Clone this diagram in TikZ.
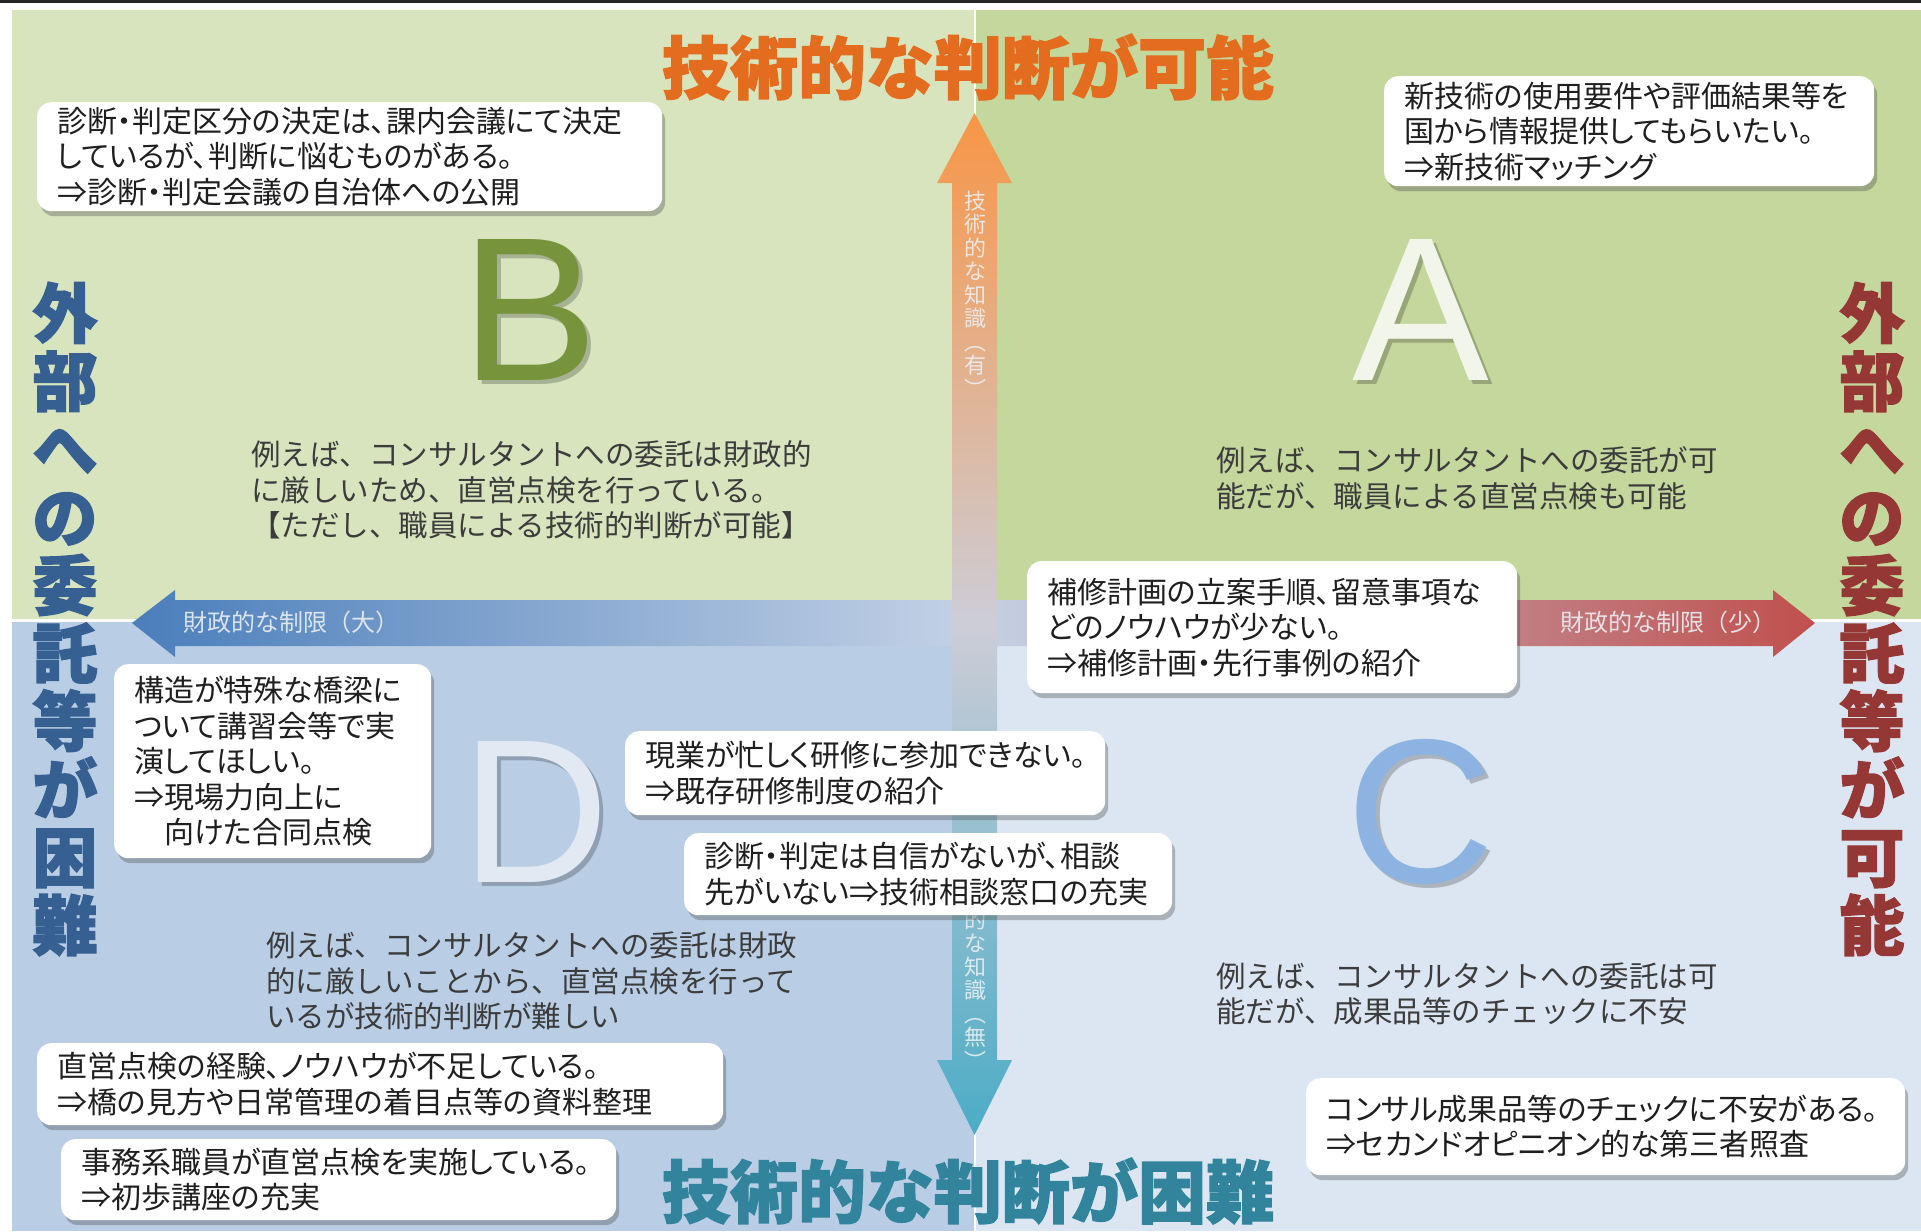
\documentclass[tikz,border=0pt]{standalone}
\usepackage{fontspec}
\setmainfont{Noto Sans CJK JP}
\newfontfamily\boxfont{Noto Sans CJK JP}[RawFeature=+palt]
\newfontfamily\heavyfont{Noto Sans CJK JP}[FakeBold=2]
\newfontfamily\latinf{Liberation Sans}
\usetikzlibrary{shadows}
\definecolor{qB}{RGB}{215,228,189}
\definecolor{qA}{RGB}{196,215,156}
\definecolor{qD}{RGB}{185,205,229}
\definecolor{qC}{RGB}{220,230,242}
\definecolor{hblue}{RGB}{74,126,187}
\definecolor{hmid}{RGB}{196,210,230}
\definecolor{hred}{RGB}{192,80,77}
\definecolor{vorange}{RGB}{247,150,70}
\definecolor{vmid}{RGB}{205,205,215}
\definecolor{vteal}{RGB}{75,172,198}
\definecolor{torange}{RGB}{228,108,30}
\definecolor{tteal}{RGB}{49,132,155}
\definecolor{sblue}{RGB}{55,96,146}
\definecolor{sred}{RGB}{149,55,53}
\definecolor{letB}{RGB}{119,147,60}
\definecolor{letA}{RGB}{242,245,234}
\definecolor{letD}{RGB}{226,233,243}
\definecolor{letC}{RGB}{141,179,226}
\definecolor{bodygray}{RGB}{60,60,60}
\definecolor{atext}{RGB}{235,238,242}
\tikzset{
 cbox/.style={fill=white, rounded corners=14pt, inner xsep=20pt, inner ysep=0pt, align=left, anchor=north west, font=\boxfont\fontsize{30}{35.5}\selectfont, text=black!88, drop shadow={shadow xshift=3pt, shadow yshift=-5pt, opacity=0.35, fill=black!70}},
 body/.style={anchor=west, align=left, inner sep=0pt, font=\fontsize{29.5}{35.5}\selectfont, text=bodygray},
 bigletter/.style={inner sep=0pt, anchor=base, font=\latinf\fontsize{205}{205}\selectfont},
 lshadow/.style={bigletter, text=black, text opacity=0.22},
 titletext/.style={inner sep=0pt, font=\heavyfont\bfseries\fontsize{68}{68}\selectfont},
 sidetitle/.style={inner sep=0pt, align=center, font=\heavyfont\bfseries\fontsize{65}{68}\selectfont},
 arrowtext/.style={inner sep=0pt, text=atext, text opacity=0.9, font=\fontsize{24}{24}\selectfont},
 vtext/.style={inner sep=0pt, align=center, text=atext, text opacity=0.9, font=\fontsize{22}{23.5}\selectfont},
}
\begin{document}
\begin{tikzpicture}[x=1pt,y=-1pt]
\useasboundingbox (0,0) rectangle (1921,1231);
\fill[white] (0,0) rectangle (1921,1231);
% quadrants
\fill[qB] (12,10) rectangle (975,620);
\fill[qA] (975,10) rectangle (1921,620);
\fill[qD] (12,620) rectangle (975,1231);
\fill[qC] (975,620) rectangle (1921,1231);
\draw[white, line width=3] (12,620) -- (1921,620);
\draw[white, line width=2] (975,10) -- (975,1231);
\draw[black!85, line width=3] (0,1.5) -- (1921,1.5);
% horizontal arrow
\shade[left color=hblue, right color=hred, middle color=hmid]
 (132,623) -- (175,590) -- (175,600) -- (1773,600) -- (1773,590) -- (1815,623)
 -- (1773,657) -- (1773,646) -- (175,646) -- (175,657) -- cycle;
% vertical arrow
\shade[top color=vorange, bottom color=vteal, middle color=vmid]
 (974.5,113) -- (1012,183) -- (997,183) -- (997,1060) -- (1012,1060) -- (974.5,1135)
 -- (937,1060) -- (952,1060) -- (952,183) -- (937,183) -- cycle;
% arrow labels
\node[arrowtext, anchor=west] (hl) at (183,622) {財政的な制限（大）};
\node[arrowtext, anchor=west] (hr) at (1560,622) {財政的な制限（少）};
\node[vtext] (vu) at (975,294) {技\\術\\的\\な\\知\\識\\︵\\有\\︶};
\node[vtext] (vd) at (975,966) {技\\術\\的\\な\\知\\識\\︵\\無\\︶};
% big letters
\node[lshadow] at (534,384) {B};
\node[bigletter, text=letB] (LB) at (530,380) {B};
\node[lshadow] at (1425,384) {A};
\node[bigletter, text=letA] (LA) at (1421,380) {A};
\node[lshadow] at (540,886) {D};
\node[bigletter, text=letD] (LD) at (536,882) {D};
\node[lshadow] at (1425,886) {C};
\node[bigletter, text=letC] (LC) at (1421,882) {C};
% titles
\node[titletext, text=torange] (ttop) at (968,67) {技術的な判断が可能};
\node[titletext, text=tteal] (tbot) at (968,1191) {技術的な判断が困難};
\node[sidetitle, text=sblue] (sl) at (65,619) {外\\部\\へ\\の\\委\\託\\等\\が\\困\\難};
\node[sidetitle, text=sred] (sr) at (1872,619) {外\\部\\へ\\の\\委\\託\\等\\が\\可\\能};
% body texts
\node[body] (tB) at (251,490) {例えば、コンサルタントへの委託は財政的\\に厳しいため、直営点検を行っている。\\【ただし、職員による技術的判断が可能】};
\node[body] (tA) at (1216,478.5) {例えば、コンサルタントへの委託が可\\能だが、職員による直営点検も可能};
\node[body] (tD) at (266,981) {例えば、コンサルタントへの委託は財政\\的に厳しいことから、直営点検を行って\\いるが技術的判断が難しい};
\node[body] (tC) at (1216,994) {例えば、コンサルタントへの委託は可\\能だが、成果品等のチェックに不安};
% boxes
\node[cbox, text width=585pt, minimum height=109pt] (b1) at (37,102) {診断・判定区分の決定は、課内会議にて決定\\しているが、判断に悩むものがある。\\⇒診断・判定会議の自治体への公開};
\node[cbox, text width=450pt, minimum height=110pt] (b2) at (1384,76) {新技術の使用要件や評価結果等を\\国から情報提供してもらいたい。\\⇒新技術マッチング};
\node[cbox, text width=450pt, minimum height=132pt] (b3) at (1027,561) {補修計画の立案手順、留意事項な\\どのノウハウが少ない。\\⇒補修計画・先行事例の紹介};
\node[cbox, text width=277pt, minimum height=194pt] (b4) at (114,664) {構造が特殊な橋梁に\\ついて講習会等で実\\演してほしい。\\⇒現場力向上に\\　向けた合同点検};
\node[cbox, text width=440pt, minimum height=84pt] (b5) at (625,731) {現業が忙しく研修に参加できない。\\⇒既存研修制度の紹介};
\node[cbox, text width=448pt, minimum height=82pt] (b6) at (684,833) {診断・判定は自信がないが、相談\\先がいない⇒技術相談窓口の充実};
\node[cbox, text width=646pt, minimum height=82pt] (b7) at (37,1043) {直営点検の経験、ノウハウが不足している。\\⇒橋の見方や日常管理の着目点等の資料整理};
\node[cbox, text width=515pt, minimum height=81pt] (b8) at (61,1139) {事務系職員が直営点検を実施している。\\⇒初歩講座の充実};
\node[cbox, text width=559pt, minimum height=97pt] (b9) at (1306,1078) {コンサル成果品等のチェックに不安がある。\\⇒セカンドオピニオン的な第三者照査};
\end{tikzpicture}
\end{document}
